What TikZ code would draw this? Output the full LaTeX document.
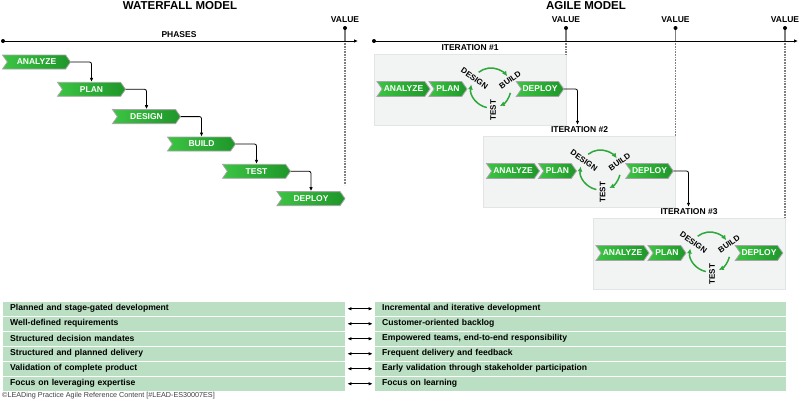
\documentclass[tikz,border=0pt]{standalone}
\usepackage{fontspec}
\setmainfont{Liberation Sans}
\usetikzlibrary{shapes.symbols,arrows.meta}
\definecolor{cgl}{HTML}{3CC443}
\definecolor{cgd}{HTML}{1E9629}
\definecolor{rowg}{HTML}{BADFC2}
\definecolor{boxg}{HTML}{F2F3F3}
\definecolor{boxb}{HTML}{E2E5E5}
\definecolor{arcg}{HTML}{2EA83A}
\definecolor{valg}{HTML}{808080}
\begin{document}
\begin{tikzpicture}[x=1pt,y=-1pt,
  chevbase/.style={signal, signal to=east, signal from=west, signal pointer angle=110,
    draw=black!35, line width=0.8pt, left color=cgl, right color=cgd, text=white,
    font=\bfseries\fontsize{8.5}{9}\selectfont, inner sep=0pt},
  wchev/.style={chevbase, minimum width=68pt, minimum height=14pt},
  achev/.style={chevbase, minimum height=15pt},
  conn/.style={draw=black, line width=0.8pt, rounded corners=2pt, -{Latex[length=4pt,width=3.5pt]}},
  axisline/.style={draw=black, line width=0.8pt, -{Latex[length=4pt,width=3.5pt]}},
  lbl/.style={font=\bfseries\fontsize{8.5}{9}\selectfont, inner sep=1pt},
  ttl/.style={font=\bfseries\fontsize{11.5}{12}\selectfont, inner sep=0pt},
  ctxt/.style={font=\bfseries\fontsize{8}{9}\selectfont, inner sep=0pt},
  cyc/.style={draw=arcg, line width=1.5pt, -{Latex[length=5pt,width=5pt]}},
  itbox/.style={fill=boxg, draw=boxb, line width=0.5pt, minimum width=192pt, minimum height=71pt, inner sep=0pt},
  lrow/.style={fill=rowg, inner xsep=7pt, inner ysep=0pt, minimum height=13.5pt, text width=328pt, align=left,
    font=\bfseries\fontsize{8.6}{9}\selectfont, anchor=west},
  rrow/.style={fill=rowg, inner xsep=7.3pt, inner ysep=0pt, minimum height=13.5pt, text width=396.7pt, align=left,
    font=\bfseries\fontsize{8.6}{9}\selectfont, anchor=west},
  dbl/.style={draw=black, line width=0.8pt, {Latex[length=4pt,width=3.5pt]}-{Latex[length=4pt,width=3.5pt]}},
  valsolid/.style={draw=valg, line width=1.6pt},
  valdot/.style={draw=valg, line width=1.2pt, dash pattern=on 0.8pt off 0.8pt}
]
\useasboundingbox (0,0) rectangle (800,400);

% titles
\node[ttl] (wt) at (180,5.5) {WATERFALL MODEL};
\node[ttl] (at) at (586,5.5) {AGILE MODEL};

% iteration boxes (background)
\foreach \i/\dx/\dy in {1/0/0,2/109.5/82,3/219/164}{
  \begin{scope}[shift={(\dx,\dy)}]
    \node[itbox] (box\i) at (470,89.5) {};
  \end{scope}
}

% value markers
\foreach \nm/\vx/\vb in {v0/345/185,v1/566/54,v2/675.5/136,v3/785/218}{
  \node[lbl] (\nm) at (\vx,20) {VALUE};
  \coordinate (\nm d) at (\vx,28);
  \coordinate (\nm a) at (\vx,41);
  \coordinate (\nm b) at (\vx,\vb);
  \draw[valsolid] (\nm d) -- (\nm a);
  \draw[valdot] (\nm a) -- (\nm b);
  \fill[black] (\nm d) circle (2pt);
}

% axes
\coordinate (ls) at (3,41);
\coordinate (le) at (358,41);
\coordinate (rs) at (374,41);
\coordinate (re) at (798,41);
\draw[axisline] (ls) -- (le);
\draw[axisline] (rs) -- (re);
\fill[black] (ls) circle (2pt);
\fill[black] (rs) circle (2pt);
\node[lbl] (ph) at (179,35) {PHASES};

% waterfall chevrons
\node[wchev] (w1) at (36.5,62) {ANALYZE};
\node[wchev] (w2) at (91.5,89.3) {PLAN};
\node[wchev] (w3) at (146.5,116.6) {DESIGN};
\node[wchev] (w4) at (201.5,144) {BUILD};
\node[wchev] (w5) at (256.5,171.3) {TEST};
\node[wchev] (w6) at (311,198.6) {DEPLOY};
\foreach \a/\b in {w1/w2,w2/w3,w3/w4,w4/w5,w5/w6}{
  \draw[conn] (\a.east) -| (\b.north);
}

% agile iterations
\foreach \i/\dx/\dy in {1/0/0,2/109.5/82,3/219/164}{
  \begin{scope}[shift={(\dx,\dy)}]
    \node[lbl] (it\i) at (470,48) {ITERATION \#\i};
    \node[achev, minimum width=53pt] (an\i) at (403.5,89) {ANALYZE};
    \node[achev, minimum width=38pt] (pl\i) at (448,89) {PLAN};
    \node[achev, minimum width=47.5pt] (de\i) at (540,89) {DEPLOY};
    \coordinate (c\i) at (491,88);
  \end{scope}
  \begin{scope}[shift={(c\i)}, x=1pt, y=1pt]
    \draw[cyc] (128:20) arc[start angle=128,end angle=36,radius=20];
    \draw[cyc] (-14:20) arc[start angle=-14,end angle=-64,radius=20];
    \draw[cyc] (-102:20) arc[start angle=-102,end angle=-190,radius=20];
  \end{scope}
  \begin{scope}[shift={(\dx,\dy)}]
    \node[ctxt, rotate=-35] (ds\i) at (474.5,78.5) {DESIGN};
    \node[ctxt, rotate=35] (bu\i) at (510,80) {BUILD};
    \node[ctxt, rotate=90] (te\i) at (493,110) {TEST};
  \end{scope}
}
\draw[conn, shorten >=1pt] (de1.east) -| ([xshift=-2pt]it2.north);
\draw[conn, shorten >=1pt] (de2.east) -| ([xshift=-0.5pt]it3.north);

% comparison table
\foreach \k/\lt/\rt in {0/{Planned and stage-gated development}/{Incremental and iterative development},
  1/{Well-defined requirements}/{Customer-oriented backlog},
  2/{Structured decision mandates}/{Empowered teams, end-to-end responsibility},
  3/{Structured and planned delivery}/{Frequent delivery and feedback},
  4/{Validation of complete product}/{Early validation through stakeholder participation},
  5/{Focus on leveraging expertise}/{Focus on learning}}{
  \node[lrow] (l\k) at (3,308.75+15*\k) {\lt};
  \node[rrow] (r\k) at (374.7,308.75+15*\k) {\rt};
  \draw[dbl] ([xshift=2pt]l\k.east) -- ([xshift=-2pt]r\k.west);
}

% footer
\node[anchor=west, inner sep=0pt, font=\fontsize{7.2}{7.2}\selectfont, text=black!75] (ft) at (2,396)
  {©LEADing Practice Agile Reference Content [\#LEAD-ES30007ES]};
\end{tikzpicture}
\end{document}
